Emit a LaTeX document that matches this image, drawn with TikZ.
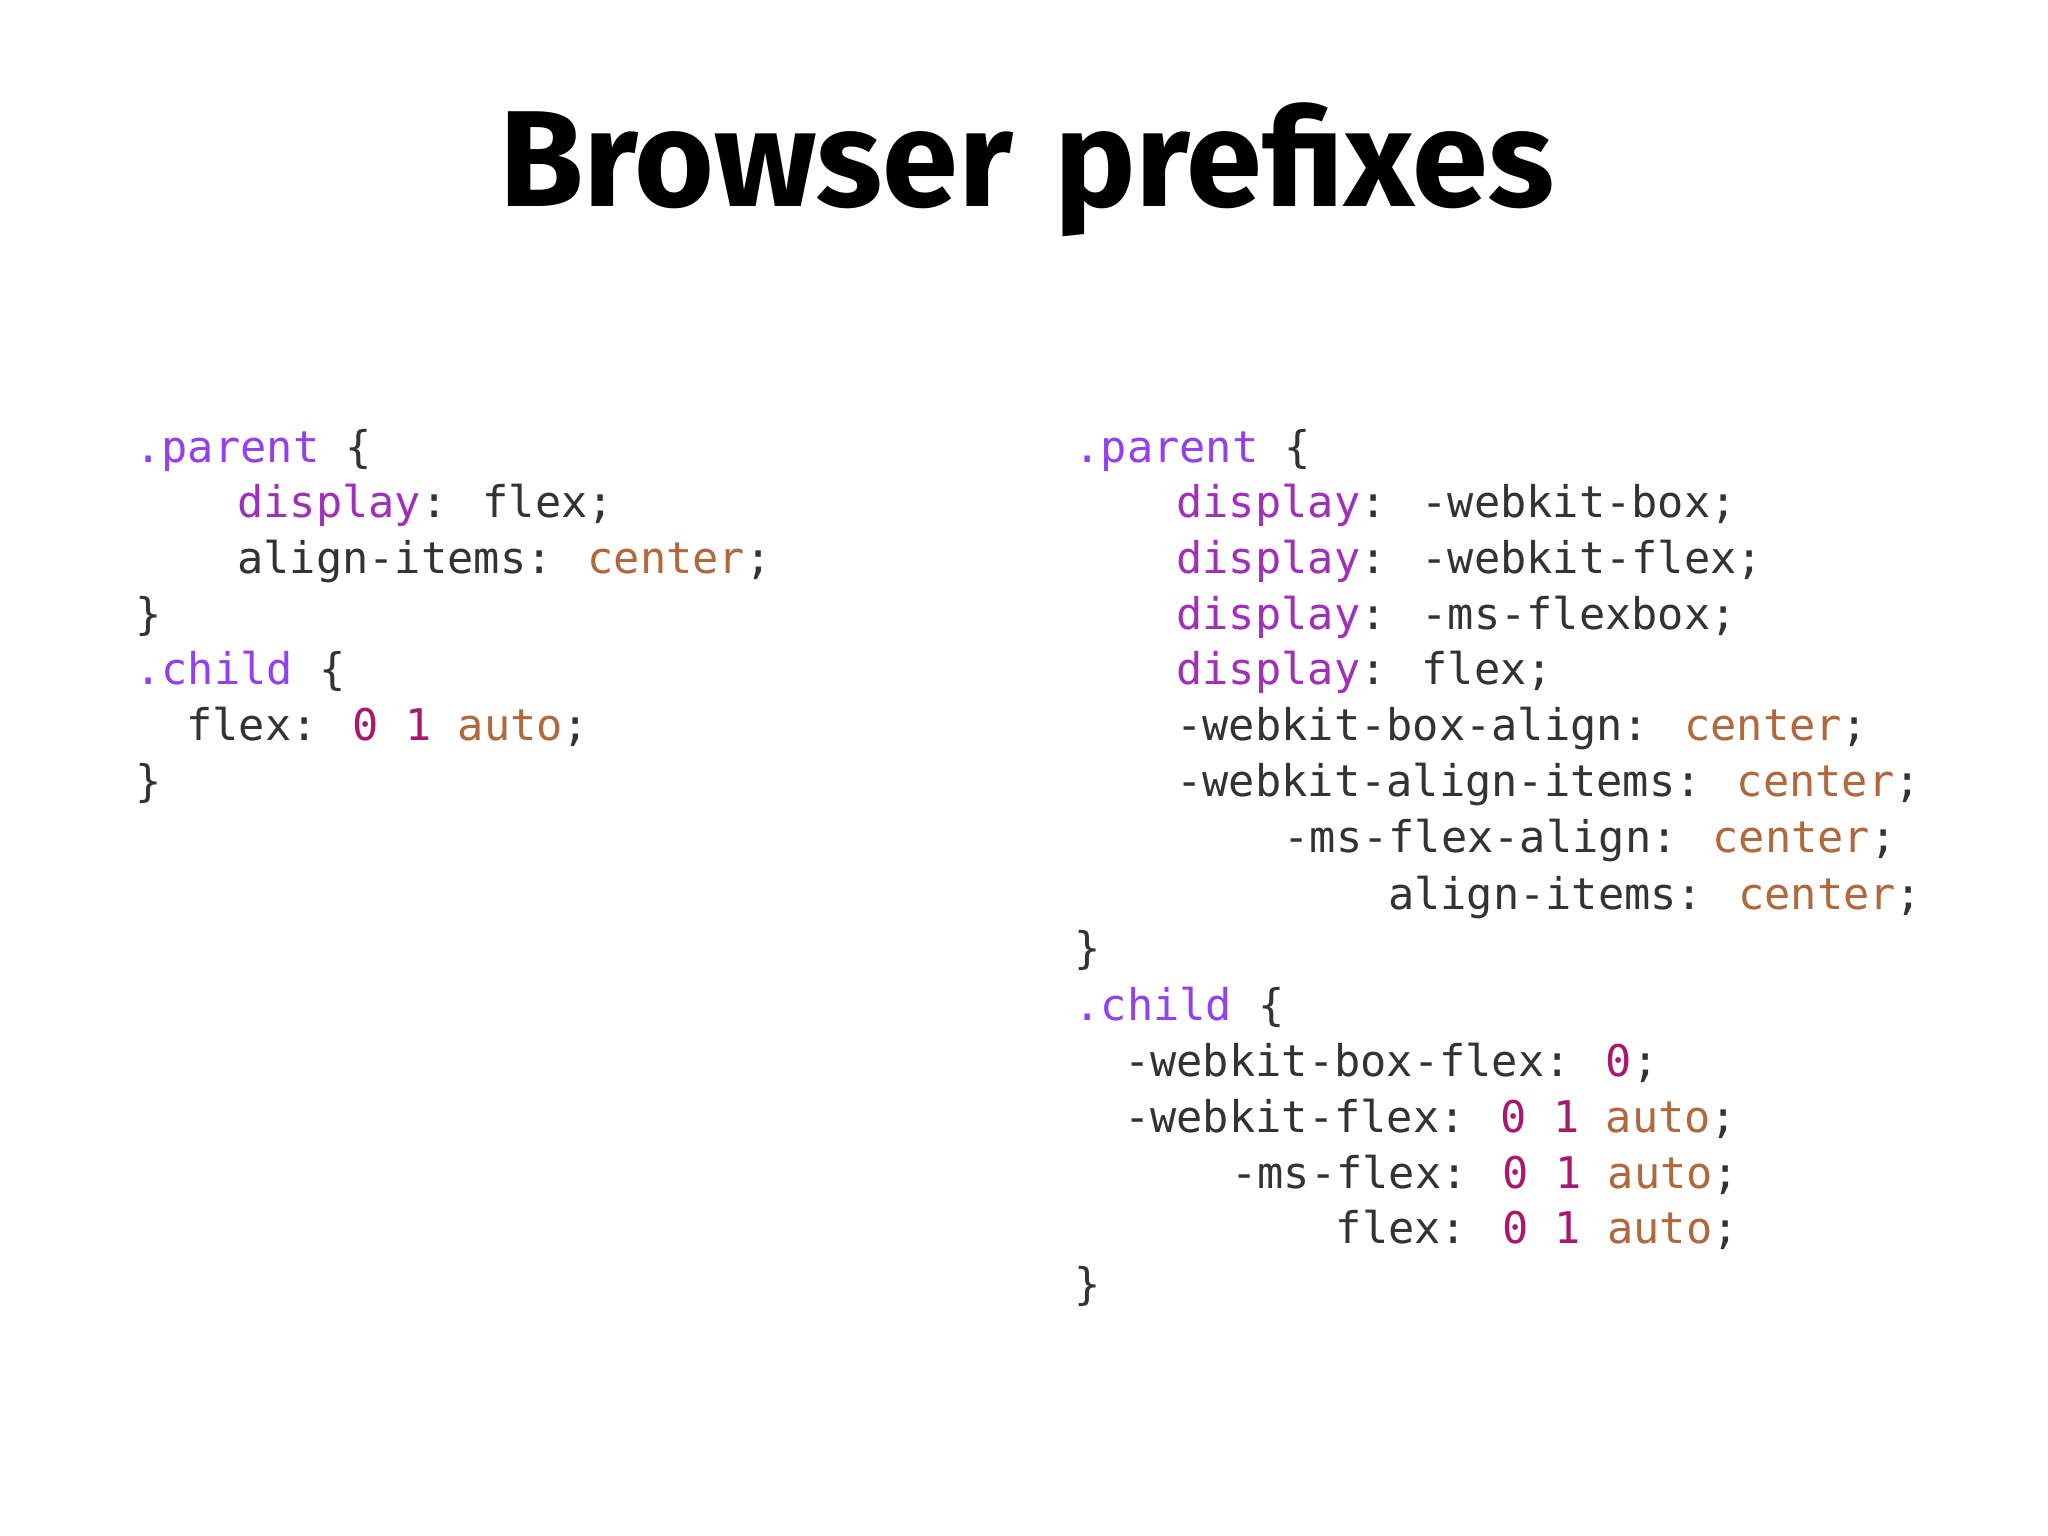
\documentclass[tikz,border=0pt]{standalone}
\usepackage{fontspec}
\usepackage{graphicx}
\newfontfamily\codefont{DejaVu Sans Mono}
\newfontfamily\titlefont{Fira Sans}
\definecolor{sel}{HTML}{9240F0}
\definecolor{prop}{HTML}{A030B8}
\definecolor{val}{HTML}{B0683C}
\definecolor{num}{HTML}{A8186E}
\definecolor{txt}{HTML}{333333}
\newcommand{\cSel}[1]{\textcolor{sel}{#1}}
\newcommand{\cProp}[1]{\textcolor{prop}{#1}}
\newcommand{\cVal}[1]{\textcolor{val}{#1}}
\newcommand{\cNum}[1]{\textcolor{num}{#1}}
\begin{document}
\begin{tikzpicture}[x=0.01cm,y=-0.01cm,
  code/.style={anchor=base west,inner sep=0,text=txt,font=\codefont\fontsize{9.5pt}{11pt}\selectfont}]
\useasboundingbox (0,0) rectangle (1568,1176);
\fill[white] (0,0) rectangle (1568,1176);
\node[inner sep=0,anchor=base] (title) at (786,158) {\resizebox{8.07cm}{!}{\titlefont\bfseries Browser\kern0.3em prefixes}};
% left column
\node[code] (l1) at (103,354) {\cSel{.parent} \{};
\node[code] (l2) at (181,396) {\cProp{display}: flex;};
\node[code] (l3) at (181,439) {align-items: \cVal{center};};
\node[code] (l4) at (103,482) {\}};
\node[code] (l5) at (103,524) {\cSel{.child} \{};
\node[code] (l6) at (142,567) {flex: \cNum{0 1} \cVal{auto};};
\node[code] (l7) at (103,610) {\}};
% right column
\node[code] (r1) at (822,354) {\cSel{.parent} \{};
\node[code] (r2) at (900,396) {\cProp{display}: -webkit-box;};
\node[code] (r3) at (900,439) {\cProp{display}: -webkit-flex;};
\node[code] (r4) at (900,482) {\cProp{display}: -ms-flexbox;};
\node[code] (r5) at (900,524) {\cProp{display}: flex;};
\node[code] (r6) at (900,567) {-webkit-box-align: \cVal{center};};
\node[code] (r7) at (900,610) {-webkit-align-items: \cVal{center};};
\node[code] (r8) at (982,653) {-ms-flex-align: \cVal{center};};
\node[code] (r9) at (1062,696) {align-items: \cVal{center};};
\node[code] (r10) at (822,738) {\}};
\node[code] (r11) at (822,781) {\cSel{.child} \{};
\node[code] (r12) at (860,824) {-webkit-box-flex: \cNum{0};};
\node[code] (r13) at (860,867) {-webkit-flex: \cNum{0 1} \cVal{auto};};
\node[code] (r14) at (942,910) {-ms-flex: \cNum{0 1} \cVal{auto};};
\node[code] (r15) at (1022,952) {flex: \cNum{0 1} \cVal{auto};};
\node[code] (r16) at (822,995) {\}};
\end{tikzpicture}
\end{document}
